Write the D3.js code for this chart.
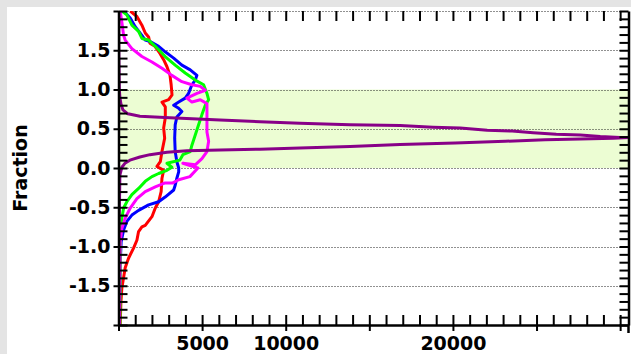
<!DOCTYPE html>
<html>
<head>
<meta charset="utf-8">
<script src="https://cdn.jsdelivr.net/npm/d3@7"></script>
<style>
    body { margin: 0; background: #e4e4e4; }
    #chart { position: absolute; left: 7px; top: 7px; width: 624px; height: 347px; background: #ffffff; }
    svg { position: absolute; left: 0; top: 0; }
</style>
</head>
<body>
<div id="chart"></div>
<script>
// [count, fraction] pairs
var red_data = [[700, 2.0], [1100, 1.93], [1400, 1.82], [1600, 1.72], [1800, 1.67], [1880, 1.59], [2180, 1.55],
    [2480, 1.46], [2700, 1.38], [2900, 1.29], [3080, 1.18], [3150, 1.06], [3200, 0.93], [3000, 0.87], [2600, 0.84],
    [2800, 0.78], [2800, 0.64], [2700, 0.51], [2760, 0.38], [2600, 0.21], [2500, 0.08], [2300, 0.02], [2700, -0.03],
    [2600, -0.13], [2550, -0.30], [2400, -0.43], [2200, -0.51], [2000, -0.62], [1600, -0.73], [1400, -0.75],
    [1200, -0.81], [1100, -0.92], [900, -1.02], [600, -1.15], [400, -1.27], [300, -1.40], [200, -1.53],
    [145, -1.71], [100, -2.0]]

var blue_data = [[305, 2.0], [700, 1.91], [1000, 1.80], [1400, 1.69], [1600, 1.63], [1900, 1.61], [2400, 1.55],
    [2790, 1.48], [3300, 1.40], [3790, 1.31], [4290, 1.25], [4690, 1.18], [4590, 1.12], [4390, 1.06], [4190, 0.95],
    [3990, 0.89], [3600, 0.84], [3300, 0.80], [3600, 0.76], [3790, 0.72], [3490, 0.65], [3390, 0.55], [3360, 0.38],
    [3390, 0.21], [3490, 0.08], [3600, 0.0], [3600, -0.05], [3490, -0.13], [3390, -0.22], [3300, -0.28],
    [2790, -0.37], [2400, -0.43], [1800, -0.47], [1200, -0.54], [800, -0.60], [500, -0.68], [305, -0.79],
    [160, -0.94], [85, -1.3], [55, -2.0]]

var green_data = [[200, 2.0], [500, 1.95], [800, 1.82], [1200, 1.74], [1400, 1.65], [1800, 1.63], [2200, 1.55],
    [2790, 1.42], [3390, 1.31], [3990, 1.21], [4590, 1.12], [5090, 1.06], [5290, 0.95], [5390, 0.87], [5190, 0.80],
    [4990, 0.68], [4790, 0.55], [4590, 0.42], [4390, 0.29], [4290, 0.21], [3850, 0.17], [3670, 0.10], [2900, 0.06],
    [3190, 0.01], [2900, -0.03], [2400, -0.07], [2000, -0.11], [1600, -0.17], [1200, -0.26], [800, -0.34],
    [500, -0.43], [305, -0.51], [200, -0.64], [115, -0.92], [85, -2.0]]

var magenta_data = [[100, 2.0], [200, 1.86], [305, 1.69], [400, 1.63], [800, 1.52], [1400, 1.42], [2000, 1.35],
    [2600, 1.27], [3190, 1.18], [3790, 1.10], [4390, 1.06], [4890, 1.04], [5190, 0.99], [4690, 0.95], [4090, 0.89],
    [4390, 0.84], [4890, 0.87], [5290, 0.82], [5290, 0.63], [5290, 0.46], [5390, 0.34], [5290, 0.21], [4990, 0.12],
    [4590, 0.04], [3850, 0.06], [4750, 0.0], [4270, -0.11], [3600, -0.15], [3250, -0.19], [2790, -0.19],
    [2200, -0.24], [1600, -0.30], [1100, -0.39], [700, -0.51], [400, -0.64], [200, -0.77], [100, -0.94], [55, -2.0]]

var purple_upper = [[12, 2.0], [24, 1.38], [54, 0.99], [84, 0.90], [144, 0.82], [263, 0.74], [562, 0.69],
    [1280, 0.66], [3075, 0.64], [6070, 0.61], [8460, 0.59], [10850, 0.57], [13850, 0.55], [16840, 0.54],
    [18810, 0.52], [20430, 0.51], [22050, 0.48], [23540, 0.47], [24800, 0.45], [26180, 0.43], [27620, 0.42],
    [28810, 0.40], [30000, 0.39], [30660, 0.39]]

var purple_lower = [[6, -2.0], [24, -1.04], [54, -0.51], [84, -0.09], [203, 0.01], [383, 0.06], [682, 0.10],
    [1280, 0.14], [1880, 0.17], [2900, 0.20], [4090, 0.22], [6070, 0.23], [8460, 0.24], [10850, 0.255],
    [13850, 0.274], [16840, 0.30], [20130, 0.32], [23120, 0.34], [25510, 0.36], [27620, 0.37], [29600, 0.38],
    [30660, 0.39]]

var x_labels = [5000, 10000, 20000]
var y_labels = [-1.5, -1.0, -0.5, 0.0, 0.5, 1.0, 1.5]
var band = [0, 1]

var width = 631
var height = 354
// plot edges in page pixels ("top" is taken by window.top, so prefix them)
var plot_left = 118.5, plot_right = 628.5, plot_top = 11, plot_bottom = 325

var svg = d3.select("body")
    .append("svg")
    .attr("width", width)
    .attr("height", height)

var x = d3.scaleLinear()
    .domain([0, 30500])
    .range([plot_left, plot_right])

var y = d3.scaleLinear()
    .domain([-2, 2])
    .range([plot_bottom, plot_top])

svg.append("clipPath")
    .attr("id", "plot")
    .append("rect")
    .attr("x", plot_left)
    .attr("y", plot_top)
    .attr("width", plot_right - plot_left)
    .attr("height", plot_bottom - plot_top)

// green band between 0 and 1
svg.append("rect")
    .attr("x", plot_left)
    .attr("y", y(band[1]))
    .attr("width", plot_right - plot_left)
    .attr("height", y(band[0]) - y(band[1]))
    .attr("fill", "#ecfdd3")

// dotted grid
svg.append("g")
    .selectAll("line")
    .data(d3.range(-1.5, 2.01, 0.5))
    .join("line")
    .attr("x1", plot_left)
    .attr("x2", plot_right)
    .attr("y1", (d) => Math.round(y(d)) + 0.5)
    .attr("y2", (d) => Math.round(y(d)) + 0.5)
    .attr("stroke", "#222")
    .attr("stroke-width", 1)
    .attr("stroke-dasharray", "1,2")

function addLine(data_to_plot, line_color) {
    svg.append("path")
        .datum(data_to_plot)
        .attr("clip-path", "url(#plot)")
        .attr("fill", "none")
        .attr("stroke", line_color)
        .attr("stroke-width", 3)
        .attr("stroke-linejoin", "round")
        .attr("d", d3.line()
            .x((d) => x(d[0]))
            .y((d) => y(d[1])))
}

addLine(red_data, "#ff0000")
addLine(blue_data, "#0000ff")
addLine(green_data, "#00ff00")
addLine(magenta_data, "#ff00ff")
addLine(purple_upper, "#880088")
addLine(purple_lower, "#880088")

var minor_x = d3.range(0, 30001, 1000)
var major_x = d3.range(0, 30001, 5000)
var minor_y = d3.range(-20, 21).map((d) => d / 10)
var major_y = d3.range(-4, 5).map((d) => d / 2)

function styleAxis(g) {
    g.selectAll("line").attr("stroke", "#000").attr("stroke-width", 2)
    g.selectAll("path").attr("stroke", "#000").attr("stroke-width", 2.5)
    g.selectAll("text")
        .attr("fill", "#000")
        .style("font-family", "DejaVu Sans")
        .style("font-weight", "bold")
        .style("font-size", "19px")
}

// top ticks
svg.append("g")
    .attr("transform", "translate(0," + plot_top + ")")
    .call(d3.axisTop(x).tickValues(minor_x).tickSize(-10).tickSizeOuter(0).tickFormat(""))
    .call(styleAxis)
    .select(".domain").remove()

// right axis
svg.append("g")
    .attr("transform", "translate(" + plot_right + ",0)")
    .call(d3.axisRight(y).tickValues(minor_y).tickSize(-9).tickSizeOuter(0).tickFormat(""))
    .call(styleAxis)

svg.append("line")
    .attr("x1", plot_right).attr("x2", plot_right)
    .attr("y1", plot_bottom).attr("y2", plot_bottom + 8)
    .attr("stroke", "#000").attr("stroke-width", 2.5)

// bottom axis
svg.append("g")
    .attr("transform", "translate(0," + plot_bottom + ")")
    .call(d3.axisBottom(x).tickValues(minor_x).tickSize(-10).tickSizeOuter(0).tickFormat(""))
    .call(styleAxis)

svg.append("g")
    .attr("transform", "translate(0," + plot_bottom + ")")
    .call(d3.axisBottom(x).tickValues(major_x).tickSize(6).tickPadding(6).tickSizeOuter(0)
        .tickFormat((d) => x_labels.includes(d) ? d : ""))
    .call(styleAxis)
    .select(".domain").remove()

// left axis
svg.append("g")
    .attr("transform", "translate(" + plot_left + ",0)")
    .call(d3.axisLeft(y).tickValues(minor_y).tickSize(-9).tickSizeOuter(0).tickFormat(""))
    .call(styleAxis)

svg.append("g")
    .attr("transform", "translate(" + plot_left + ",0)")
    .call(d3.axisLeft(y).tickValues(major_y).tickSize(5).tickPadding(3).tickSizeOuter(0)
        .tickFormat((d) => y_labels.includes(d) ? d3.format(".1f")(d).replace("\u2212", "-") : ""))
    .call(styleAxis)
    .select(".domain").remove()

svg.append("text")
    .attr("transform", "translate(27," + y(0) + ") rotate(-90)")
    .style("text-anchor", "middle")
    .style("font-family", "DejaVu Sans")
    .style("font-weight", "bold")
    .style("font-size", "19px")
    .text("Fraction")
</script>
</body>
</html>
